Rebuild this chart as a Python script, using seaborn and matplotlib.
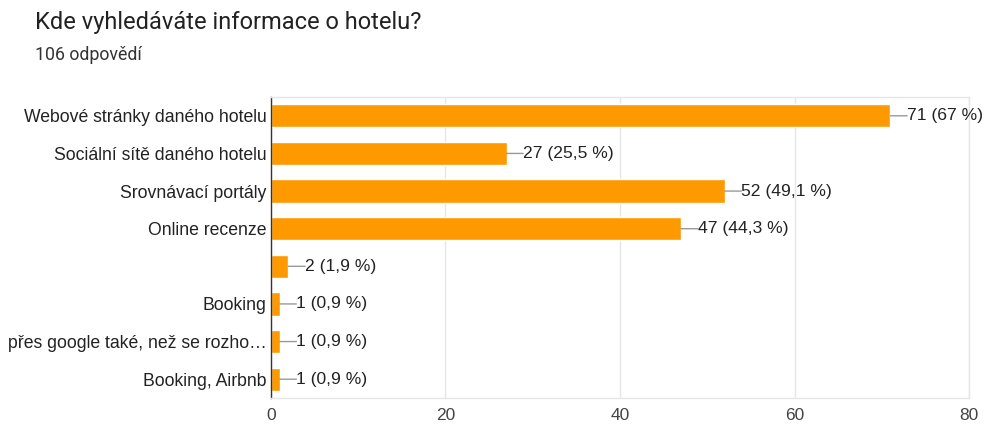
import matplotlib
matplotlib.use("Agg")
import matplotlib.pyplot as plt
import seaborn as sns
import pandas as pd

categories = [
    "Webové stránky daného hotelu",
    "Sociální sítě daného hotelu",
    "Srovnávací portály",
    "Online recenze",
    " ",
    "Booking",
    "přes google také, než se rozho…",
    "Booking, Airbnb",
]
counts = [71, 27, 52, 47, 2, 1, 1, 1]
labels = ["71 (67 %)", "27 (25,5 %)", "52 (49,1 %)", "47 (44,3 %)",
          "2 (1,9 %)", "1 (0,9 %)", "1 (0,9 %)", "1 (0,9 %)"]
xticks = [0, 20, 40, 60, 80]

title = "Kde vyhledáváte informace o hotelu?"
subtitle = "106 odpovědí"

sns.set_theme(style="white")
plt.rcParams['font.family'] = ['Liberation Sans', 'DejaVu Sans']

df = pd.DataFrame({"cat": categories, "n": counts})

fig = plt.figure(figsize=(9.87, 4.25), dpi=100)
ax = fig.add_axes([271/987, 1-398/425, (969-271)/987, (398-97)/425])

sns.barplot(data=df, y="cat", x="n", orient="h", color="#FF9900",
            saturation=1, width=0.62, ax=ax, order=categories)

ax.set_xlim(0, 80)
ax.set_xticks(xticks)
ax.set_xticklabels([str(t) for t in xticks])
ax.set_xlabel("")
ax.set_ylabel("")
ax.xaxis.grid(True, color="#e6e6e6", lw=1)
ax.set_axisbelow(True)
ax.tick_params(axis="x", length=0, pad=7, labelsize=12.5, labelcolor="#444444")
ax.tick_params(axis="y", length=0, pad=3, labelsize=12.7, labelcolor="#222222")

for s in ["top", "right", "bottom"]:
    ax.spines[s].set_color("#e6e6e6")
    ax.spines[s].set_linewidth(1)
ax.spines["left"].set_color("#333333")
ax.spines["left"].set_linewidth(1)

for i, (v, lab) in enumerate(zip(counts, labels)):
    ax.annotate(lab, xy=(v, i), xytext=(12, 0), textcoords="offset points",
                ha="left", va="center", fontsize=12.6, color="#222222",
                arrowprops=dict(arrowstyle="-", color="#999999", lw=1,
                                shrinkA=0, shrinkB=0, patchA=None,
                                relpos=(0, 0.5)))

fig.text(35/987, 1-22/425, title, fontsize=17, color="#222222", va="center",
         ha="left", family=["Roboto", "DejaVu Sans"])
fig.text(35/987, 1-55/425, subtitle, fontsize=12.8, color="#333333", va="center",
         ha="left", family=["Roboto", "DejaVu Sans"])

fig.savefig("out.png", dpi=100)
